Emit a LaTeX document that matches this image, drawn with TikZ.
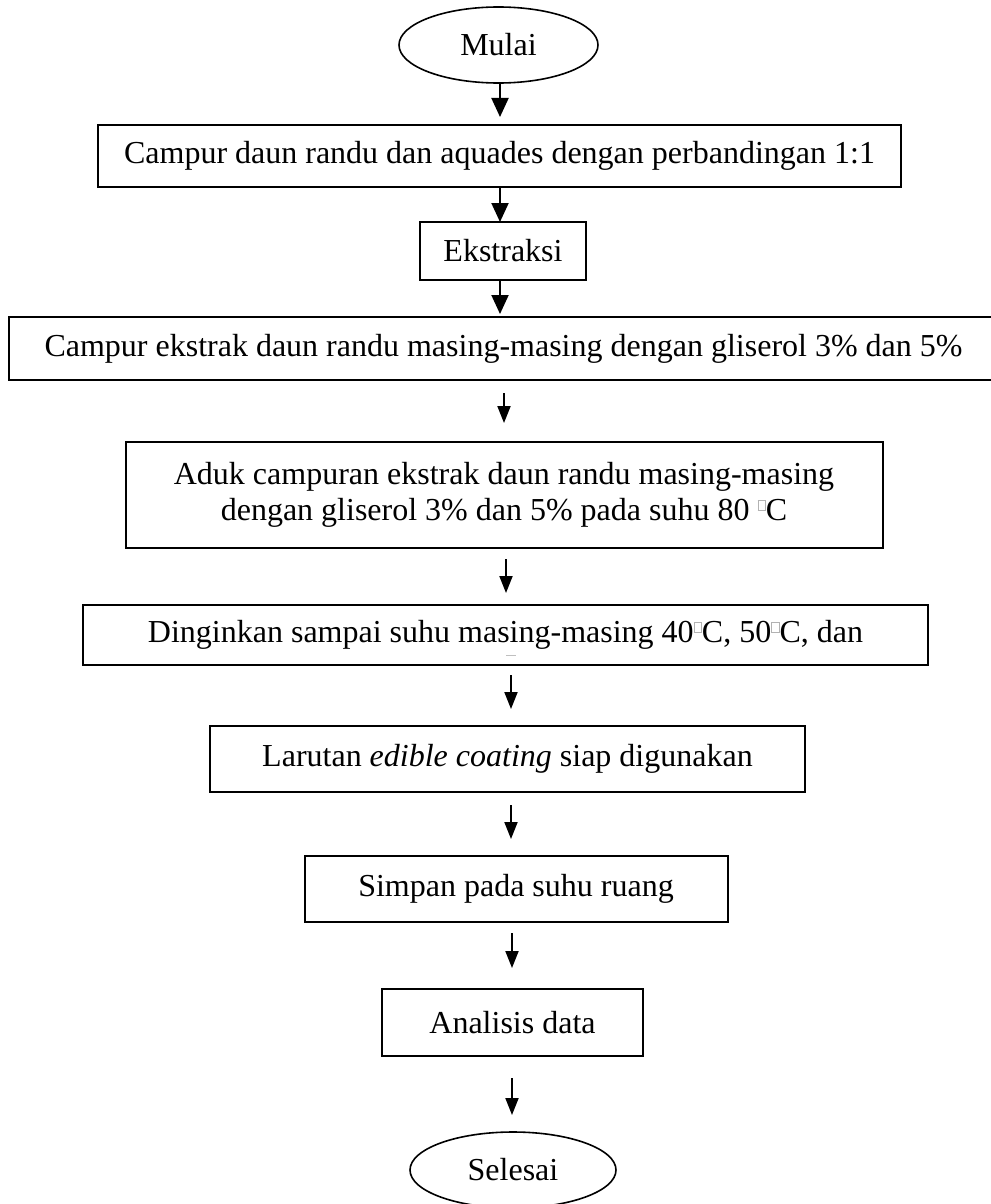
\documentclass[tikz,border=0pt]{standalone}
\usepackage{fontspec}
\setmainfont{Liberation Serif}
\usetikzlibrary{shapes.geometric,arrows.meta}
\newcommand\tofu{\raisebox{0.34em}{\textcolor{gray!60}{\setlength{\fboxrule}{0.6pt}\setlength{\fboxsep}{0pt}\fbox{\rule{0pt}{0.30em}\rule{0.22em}{0pt}}}}}
\begin{document}
\begin{tikzpicture}[x=1pt,y=-1pt,
  every node/.style={font=\fontsize{32}{36}\selectfont, inner sep=0pt, outer sep=0pt},
  procbox/.style={draw, line width=2pt, rectangle, align=center},
  termbox/.style={draw, line width=1.6pt, ellipse},
  bigarr/.style={line width=2pt, -{Triangle[width=17pt,length=19pt]}},
  smallarr/.style={line width=2pt, -{Triangle[width=13pt,length=17pt]}}]
\useasboundingbox (0,0) rectangle (990,1204);
\node[termbox, minimum width=199pt, minimum height=76pt] (mulai) at (498.5,45) {Mulai};
\node[procbox, minimum width=803pt, minimum height=62pt] (b1) at (499.5,156) {Campur daun randu dan aquades dengan perbandingan 1:1};
\node[procbox, minimum width=166pt, minimum height=58pt] (b2) at (503,251) {Ekstraksi};
\node[procbox, minimum width=989pt, minimum height=63pt] (b3) at (503.5,348.5) {Campur ekstrak daun randu masing-masing dengan gliserol 3\% dan 5\%};
\node[procbox, minimum width=757pt, minimum height=106pt] (b4) at (504,495) {Aduk campuran ekstrak daun randu masing-masing\\dengan gliserol 3\% dan 5\% pada suhu 80 \tofu C};
\node[procbox, minimum width=845pt, minimum height=60pt] (b5) at (505.5,635) {Dinginkan sampai suhu masing-masing 40\tofu C, 50\tofu C, dan};
\node[procbox, minimum width=595pt, minimum height=66pt] (b6) at (507.5,759) {Larutan \textit{edible coating} siap digunakan};
\node[procbox, minimum width=423pt, minimum height=66pt] (b7) at (516,889) {Simpan pada suhu ruang};
\node[procbox, minimum width=261pt, minimum height=67pt] (b8) at (512.5,1022.5) {Analisis data};
\node[termbox, minimum width=206pt, minimum height=76pt] (selesai) at (513,1170) {Selesai};
\draw[gray!50, line width=0.6pt] (506,655) -- (516,655);
\draw[bigarr, shorten >=8pt] ([xshift=1.5pt]mulai.south) -- ([xshift=0.5pt]b1.north);
\draw[bigarr] ([xshift=0.5pt]b1.south) -- ([xshift=-3pt]b2.north);
\draw[bigarr, shorten >=3pt] ([xshift=-3pt]b2.south) -- ([xshift=-3.5pt]b3.north);
\draw[smallarr, shorten <=13pt, shorten >=19pt] ([xshift=0.5pt]b3.south) -- ([xshift=0pt]b4.north);
\draw[smallarr, shorten <=11pt, shorten >=12pt] ([xshift=2pt]b4.south) -- ([xshift=0.5pt]b5.north);
\draw[smallarr, shorten <=10pt, shorten >=17pt] ([xshift=5.5pt]b5.south) -- ([xshift=3.5pt]b6.north);
\draw[smallarr, shorten <=13pt, shorten >=17pt] ([xshift=3.5pt]b6.south) -- ([xshift=-5pt]b7.north);
\draw[smallarr, shorten <=11pt, shorten >=21pt] ([xshift=-4pt]b7.south) -- ([xshift=-0.5pt]b8.north);
\draw[smallarr, shorten <=22pt, shorten >=17pt] ([xshift=-0.5pt]b8.south) -- ([xshift=-1pt]selesai.north);
\end{tikzpicture}
\end{document}
